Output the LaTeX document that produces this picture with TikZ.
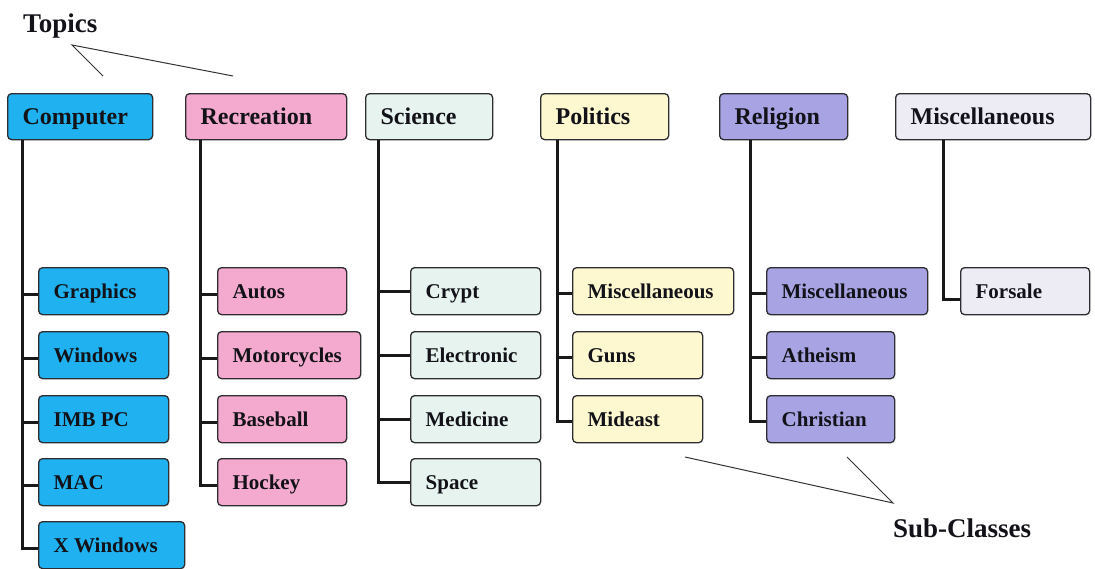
\documentclass[tikz,border=0pt]{standalone}
\usepackage{fontspec}
\setmainfont{Liberation Serif}
\definecolor{ccomp}{RGB}{32,178,240}
\definecolor{crec}{RGB}{244,170,206}
\definecolor{csci}{RGB}{230,243,238}
\definecolor{cpol}{RGB}{253,248,208}
\definecolor{crel}{RGB}{168,164,228}
\definecolor{cmisc}{RGB}{237,236,245}
\definecolor{bcol}{RGB}{45,45,50}
\definecolor{tcol}{RGB}{18,18,24}
\newcommand{\bx}[2]{\makebox[#1pt][l]{#2}}
\tikzset{
  boxbase/.style={draw=bcol, line width=1.3pt, rounded corners=4pt, anchor=north west,
    inner xsep=15pt, inner ysep=0pt, text=tcol, text depth=0pt},
  topbox/.style={boxbase, minimum height=46pt, text height=16pt, font=\fontsize{24}{28}\selectfont\bfseries},
  subbox/.style={boxbase, minimum height=47pt, text height=14pt, font=\fontsize{21}{25}\selectfont\bfseries},
  trunk/.style={line width=3pt, draw=black!90},
  note/.style={line width=1pt, draw=black!80},
  lbl/.style={anchor=base west, inner sep=0pt, font=\fontsize{27}{30}\selectfont\bfseries, text=tcol}
}
\begin{document}
\begin{tikzpicture}[x=1pt,y=-1pt]
\useasboundingbox (0,0) rectangle (1095,568);
% top level
\node[topbox, fill=ccomp] (comp) at (7,93) {\bx{115}{Computer}};
\node[topbox, fill=crec] (rec) at (185,93) {\bx{131}{Recreation}};
\node[topbox, fill=csci] (sci) at (365,93) {\bx{97}{Science}};
\node[topbox, fill=cpol] (pol) at (540,93) {\bx{98}{Politics}};
\node[topbox, fill=crel] (rel) at (719,93) {\bx{98}{Religion}};
\node[topbox, fill=cmisc] (misc) at (895,93) {\bx{165}{Miscellaneous}};
% computer subs
\node[subbox, fill=ccomp] (c1) at (38,267) {\bx{100}{Graphics}};
\node[subbox, fill=ccomp] (c2) at (38,331) {\bx{100}{Windows}};
\node[subbox, fill=ccomp] (c3) at (38,395) {\bx{100}{IMB PC}};
\node[subbox, fill=ccomp] (c4) at (38,458) {\bx{100}{MAC}};
\node[subbox, fill=ccomp] (c5) at (38,521) {\bx{116}{X Windows}};
% recreation subs
\node[subbox, fill=crec] (r1) at (217,267) {\bx{99}{Autos}};
\node[subbox, fill=crec] (r2) at (217,331) {\bx{113}{Motorcycles}};
\node[subbox, fill=crec] (r3) at (217,395) {\bx{99}{Baseball}};
\node[subbox, fill=crec] (r4) at (217,458) {\bx{99}{Hockey}};
% science subs
\node[subbox, fill=csci] (s1) at (410,267) {\bx{100}{Crypt}};
\node[subbox, fill=csci] (s2) at (410,331) {\bx{100}{Electronic}};
\node[subbox, fill=csci] (s3) at (410,395) {\bx{100}{Medicine}};
\node[subbox, fill=csci] (s4) at (410,458) {\bx{100}{Space}};
% politics subs
\node[subbox, fill=cpol] (p1) at (572,267) {\bx{131}{Miscellaneous}};
\node[subbox, fill=cpol] (p2) at (572,331) {\bx{100}{Guns}};
\node[subbox, fill=cpol] (p3) at (572,395) {\bx{100}{Mideast}};
% religion subs
\node[subbox, fill=crel] (g1) at (766,267) {\bx{131}{Miscellaneous}};
\node[subbox, fill=crel] (g2) at (766,331) {\bx{98}{Atheism}};
\node[subbox, fill=crel] (g3) at (766,395) {\bx{98}{Christian}};
% misc subs
\node[subbox, fill=cmisc] (m1) at (960,267) {\bx{99}{Forsale}};
% connectors
\foreach \c in {c1,c2,c3,c4,c5} \draw[trunk] ([xshift=15pt]comp.south west) |- ([yshift=-3pt]\c.west);
\foreach \c in {r1,r2,r3,r4} \draw[trunk] ([xshift=15pt]rec.south west) |- ([yshift=-3pt]\c.west);
\foreach \c in {s1,s2,s3,s4} \draw[trunk] ([xshift=13pt]sci.south west) |- (\c.west);
\foreach \c in {p1,p2,p3} \draw[trunk] ([xshift=17pt]pol.south west) |- ([yshift=-2pt]\c.west);
\foreach \c in {g1,g2,g3} \draw[trunk] ([xshift=31pt]rel.south west) |- ([yshift=-2pt]\c.west);
\draw[trunk] ([xshift=48pt]misc.south west) |- ([yshift=-8pt]m1.west);
% annotations
\node[lbl] (topics) at (23,32) {Topics};
\coordinate (ta) at (72,45);
\coordinate (t1) at (103,76);
\coordinate (t2) at (233,76);
\draw[note] (t1) -- (ta) -- (t2);
\node[lbl] (subcl) at (893,537) {Sub-Classes};
\coordinate (sa) at (893,503);
\coordinate (s1a) at (685,457);
\coordinate (s2a) at (847,457);
\draw[note] (s1a) -- (sa) -- (s2a);
\end{tikzpicture}
\end{document}
